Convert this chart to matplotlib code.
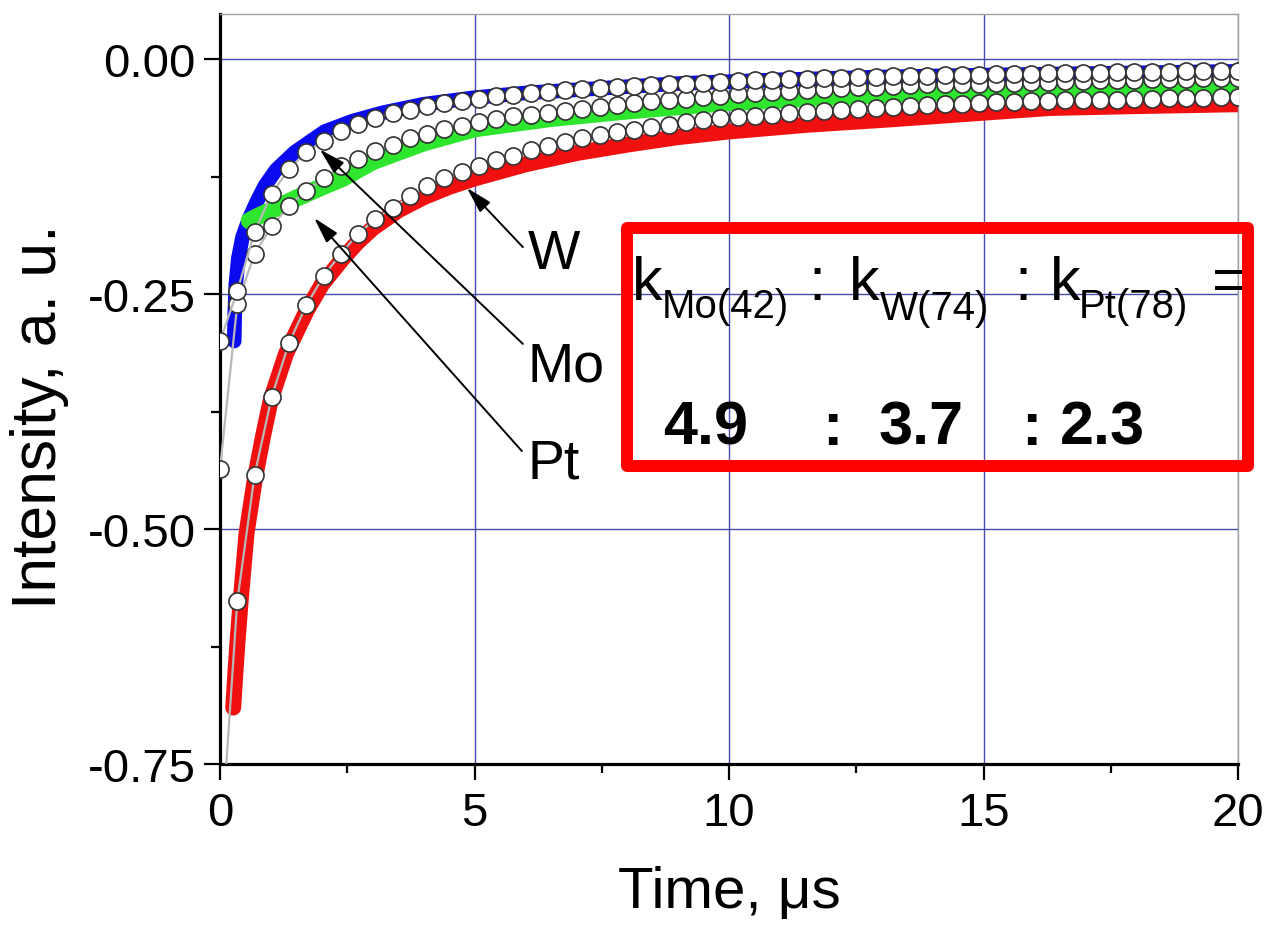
import numpy as np
import matplotlib
matplotlib.use("Agg")
import matplotlib.pyplot as plt
from matplotlib.patches import Rectangle
from matplotlib.ticker import MultipleLocator

plt.rcParams['font.family'] = ['Liberation Sans', 'DejaVu Sans']

# ---------------- data ----------------
# time grid of the fitted points (circles), microseconds
fit_time = np.linspace(0, 20, 60)

fit_W = [-0.300, -0.247, -0.184, -0.143, -0.117, -0.099, -0.087, -0.077, -0.069, -0.063,
         -0.057, -0.054, -0.050, -0.047, -0.045, -0.042, -0.039, -0.038, -0.036, -0.035,
         -0.033, -0.032, -0.031, -0.030, -0.029, -0.028, -0.027, -0.026, -0.025, -0.024,
         -0.023, -0.022, -0.022, -0.021, -0.021, -0.020, -0.020, -0.019, -0.019, -0.018,
         -0.018, -0.018, -0.017, -0.017, -0.017, -0.016, -0.016, -0.016, -0.015, -0.015,
         -0.015, -0.015, -0.014, -0.014, -0.014, -0.014, -0.013, -0.013, -0.013, -0.013]

fit_Mo = [-0.436, -0.261, -0.207, -0.178, -0.156, -0.140, -0.127, -0.114, -0.106, -0.098,
          -0.091, -0.084, -0.080, -0.074, -0.071, -0.067, -0.064, -0.061, -0.059, -0.057,
          -0.055, -0.053, -0.051, -0.049, -0.047, -0.045, -0.044, -0.042, -0.040, -0.039,
          -0.037, -0.036, -0.035, -0.034, -0.033, -0.032, -0.031, -0.030, -0.030, -0.029,
          -0.028, -0.027, -0.027, -0.026, -0.026, -0.025, -0.025, -0.024, -0.024, -0.023,
          -0.023, -0.022, -0.022, -0.022, -0.021, -0.021, -0.021, -0.020, -0.020, -0.020]

fit_Pt = [-0.850, -0.577, -0.443, -0.359, -0.302, -0.262, -0.231, -0.207, -0.186, -0.170,
          -0.158, -0.146, -0.135, -0.127, -0.120, -0.114, -0.107, -0.103, -0.097, -0.092,
          -0.088, -0.084, -0.081, -0.078, -0.075, -0.072, -0.070, -0.067, -0.065, -0.063,
          -0.062, -0.060, -0.059, -0.057, -0.056, -0.055, -0.054, -0.053, -0.052, -0.051,
          -0.050, -0.049, -0.048, -0.048, -0.047, -0.046, -0.046, -0.045, -0.045, -0.044,
          -0.044, -0.043, -0.043, -0.042, -0.042, -0.041, -0.041, -0.041, -0.040, -0.040]

# measured kinetics (thick coloured traces)
W_time = [0.28, 0.29, 0.31, 0.36, 0.44, 0.57, 0.72, 0.88, 1.10, 1.47, 2.06, 2.60, 3.20,
          4.00, 5.00, 6.00, 7.50, 9.00, 11.0, 13.0, 15.0, 17.5, 20.0]
W_int = [-0.300, -0.270, -0.240, -0.212, -0.190, -0.170, -0.152, -0.135, -0.118, -0.099,
         -0.077, -0.066, -0.057, -0.048, -0.041, -0.036, -0.031, -0.026, -0.022, -0.019,
         -0.017, -0.015, -0.013]

Mo_time = [0.58, 0.80, 1.04, 1.50, 2.00, 2.40, 3.00, 4.00, 5.00, 6.50, 8.00, 10.0, 13.2,
           16.3, 20.0]
Mo_int = [-0.172, -0.166, -0.160, -0.148, -0.136, -0.127, -0.109, -0.089, -0.074, -0.063,
          -0.055, -0.046, -0.037, -0.032, -0.029]

Pt_time = [0.26, 0.30, 0.35, 0.41, 0.52, 0.69, 0.85, 1.00, 1.30, 1.70, 2.00, 2.40, 2.70,
           3.00, 3.50, 4.00, 4.50, 5.00, 6.00, 7.00, 8.00, 9.00, 10.0, 11.5, 13.2, 15.0,
           16.3, 18.0, 20.0]
Pt_int = [-0.690, -0.655, -0.615, -0.574, -0.505, -0.445, -0.400, -0.362, -0.313, -0.268,
          -0.240, -0.213, -0.195, -0.180, -0.161, -0.147, -0.136, -0.127, -0.112, -0.100,
          -0.091, -0.083, -0.077, -0.070, -0.064, -0.057, -0.052, -0.050, -0.048]

x_ticks = [0, 5, 10, 15, 20]
y_ticks = [0.00, -0.25, -0.50, -0.75]
y_tick_labels = ["0.00", "-0.25", "-0.50", "-0.75"]

ratio_names = ["Mo(42)", "W(74)", "Pt(78)"]
ratio_values = ["4.9", "3.7", "2.3"]

# ---------------- figure ----------------
W_PX, H_PX = 1266, 928
fig = plt.figure(figsize=(W_PX / 100, H_PX / 100), dpi=100)


def fx(x):
    return x / W_PX


def fy(y):
    return 1 - y / H_PX


ax = fig.add_axes([fx(220), fy(765), (1238 - 220) / W_PX, (765 - 15) / H_PX])

# thick measured traces
ax.plot(W_time, W_int, color='#0a0aee', lw=10.5, solid_capstyle='round', zorder=2)
ax.plot(Mo_time, Mo_int, color='#2fe62f', lw=12.5, solid_capstyle='round', zorder=2)
ax.plot(Pt_time, Pt_int, color='#f01010', lw=11.5, solid_capstyle='round', zorder=2)

# fits: thin gray line + open circles
for vals, z in [(fit_Pt, 3), (fit_Mo, 4), (fit_W, 5)]:
    ax.plot(fit_time, vals, color='#b8b8b8', lw=1.6, zorder=z)
    ax.plot(fit_time, vals, linestyle='none', marker='o', ms=12.3, mfc='white',
            mec='#333333', mew=1.2, zorder=z + 0.5)

ax.set_xlim(0, 20)
ax.set_ylim(-0.75, 0.048)
ax.set_xticks(x_ticks)
ax.set_xticklabels([str(v) for v in x_ticks])
ax.set_yticks(y_ticks)
ax.set_yticklabels(y_tick_labels)
ax.xaxis.set_minor_locator(MultipleLocator(2.5))
ax.yaxis.set_minor_locator(MultipleLocator(0.125))
ax.tick_params(which='major', direction='out', length=11.5, width=1.6, labelsize=34,
               pad=6, color='black')
ax.tick_params(which='minor', direction='out', length=6.5, width=1.6, color='black')
ax.tick_params(axis='x', which='major', pad=8)
ax.grid(True, which='major', color='#4a4ab4', lw=1.0, zorder=1)
ax.set_axisbelow(True)

for s in ['left', 'bottom']:
    ax.spines[s].set_linewidth(2.3)
    ax.spines[s].set_color('black')
for s in ['top', 'right']:
    ax.spines[s].set_linewidth(1.0)
    ax.spines[s].set_color('#a0a0a0')

# axis titles
fig.text(fx(729), fy(893), "Time, \u03bcs", fontsize=42, ha='center', va='center')
fig.text(fx(40), fy(417), "Intensity, a. u.", fontsize=45, rotation=90,
         ha='center', va='center')

# arrows with labels
arrow_kw = dict(arrowstyle='-|>,head_length=0.8,head_width=0.22', color='black',
                lw=1.4, mutation_scale=20, shrinkA=0, shrinkB=0)
ax.annotate('', xy=(4.85, -0.137), xytext=(5.95, -0.200), arrowprops=arrow_kw, zorder=7)
ax.annotate('', xy=(1.96, -0.096), xytext=(5.95, -0.303), arrowprops=arrow_kw, zorder=7)
ax.annotate('', xy=(1.85, -0.169), xytext=(5.93, -0.417), arrowprops=arrow_kw, zorder=7)
ax.text(6.05, -0.207, "W", fontsize=40, ha='left', va='center', zorder=8)
ax.text(6.05, -0.327, "Mo", fontsize=40, ha='left', va='center', zorder=8)
ax.text(6.05, -0.430, "Pt", fontsize=40, ha='left', va='center', zorder=8)

# red box with rate-constant ratio
fig.add_artist(Rectangle((fx(627), fy(467)), (1248 - 627) / W_PX, (467 - 229) / H_PX,
                         transform=fig.transFigure, fill=False, ec='#ff0000', lw=8.6,
                         joinstyle='round', zorder=5))

big = 44
small = 29
row1 = [("k", 632, 300, big), (ratio_names[0], 662, 318, small), (":", 808, 300, big),
        ("k", 849, 300, big), (ratio_names[1], 880, 320, small), (":", 1014, 300, big),
        ("k", 1050, 300, big), (ratio_names[2], 1079, 318, small), ("=", 1212, 300, big)]
for s, x, y, size in row1:
    fig.text(fx(x), fy(y), s, fontsize=size, ha='left', va='baseline')

row2 = [(ratio_values[0], 663), (":", 822), (ratio_values[1], 879), (":", 1021),
        (ratio_values[2], 1060)]
for s, x in row2:
    fig.text(fx(x), fy(445), s, fontsize=big, fontweight='bold', ha='left', va='baseline')

fig.savefig("out.png", dpi=100)
